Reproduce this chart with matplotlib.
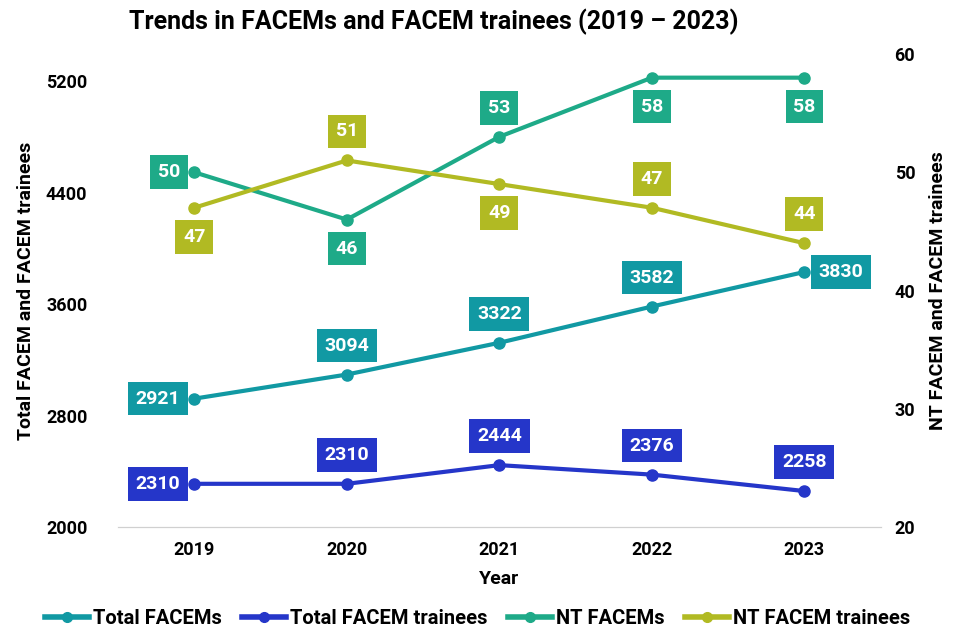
import matplotlib.pyplot as plt
from matplotlib.lines import Line2D

plt.rcParams['font.family'] = ['Roboto', 'DejaVu Sans']
plt.rcParams['font.weight'] = 'bold'

years = ['2019', '2020', '2021', '2022', '2023']
total_facems = [2921, 3094, 3322, 3582, 3830]
total_trainees = [2310, 2310, 2444, 2376, 2258]
nt_facems = [50, 46, 53, 58, 58]
nt_trainees = [47, 51, 49, 47, 44]

# label placement per point: u=above, d=below, l=left, r=right
pos_total = ['l', 'u', 'u', 'u', 'r']
pos_trainees = ['l', 'u', 'u', 'u', 'u']
pos_nt = ['l', 'd', 'u', 'd', 'd']
pos_nt_tr = ['d', 'u', 'd', 'u', 'u']

c_total = '#1199A3'
c_trainees = '#2536C9'
c_nt = '#1EAA88'
c_nt_tr = '#B1BA23'

fig = plt.figure(figsize=(9.71, 6.31), dpi=100)
ax = fig.add_axes([0.1215, 0.1648, 0.7855, 0.7496])
ax2 = ax.twinx()
x = range(len(years))


def draw(a, vals, color, where):
    a.plot(x, vals, color=color, lw=3, marker='o', ms=8, zorder=3)
    for i, v in enumerate(vals):
        p = where[i]
        if p == 'u':
            off, ha, va = (0, 29), 'center', 'center'
        elif p == 'd':
            off, ha, va = (0, -29), 'center', 'center'
        elif p == 'l':
            off, ha, va = (-14, 0), 'right', 'center'
        else:
            off, ha, va = (14, 0), 'left', 'center'
        a.annotate(str(v), (i, v), xytext=off, textcoords='offset pixels',
                   ha=ha, va=va, color='white', fontsize=14, fontweight='bold',
                   bbox=dict(boxstyle='square,pad=0.4', fc=color, ec='none'),
                   zorder=5)


draw(ax, total_facems, c_total, pos_total)
draw(ax, total_trainees, c_trainees, pos_trainees)
draw(ax2, nt_facems, c_nt, pos_nt)
draw(ax2, nt_trainees, c_nt_tr, pos_nt_tr)

ax.set_xlim(-0.5, 4.5)
ax.set_ylim(2000, 5394)
ax.set_yticks([2000, 2800, 3600, 4400, 5200])
ax2.set_ylim(20, 60)
ax2.set_yticks([20, 30, 40, 50, 60])
ax.set_xticks(list(x))
ax.set_xticklabels(years)

for a in (ax, ax2):
    for s in ['top', 'left', 'right']:
        a.spines[s].set_visible(False)
    a.spines['bottom'].set_color('#d0d0d0')
    a.tick_params(length=0, labelsize=13, pad=10)
    for t in a.get_xticklabels() + a.get_yticklabels():
        t.set_fontweight('bold')
ax.tick_params(axis='y', pad=22)

ax.set_xlabel('Year', fontsize=14, fontweight='bold', labelpad=8)
ax.set_ylabel('Total FACEM and FACEM trainees', fontsize=14, fontweight='bold', labelpad=8)
ax2.set_ylabel('NT FACEM and FACEM trainees', fontsize=14, fontweight='bold', labelpad=10)
fig.suptitle('Trends in FACEMs and FACEM trainees (2019 \u2013 2023)',
             fontsize=18, fontweight='bold', x=0.447, y=0.987)

handles = [Line2D([], [], color=c, lw=4, marker='o', ms=7)
           for c in (c_total, c_trainees, c_nt, c_nt_tr)]
labels = ['Total FACEMs', 'Total FACEM trainees', 'NT FACEMs', 'NT FACEM trainees']
fig.legend(handles, labels, loc='center', bbox_to_anchor=(0.492, 0.02), ncol=4,
           frameon=False, prop={'size': 14.5, 'weight': 'bold'}, handlelength=2.2,
           handletextpad=0.2, columnspacing=1.0)

fig.savefig('out.png', dpi=100)
